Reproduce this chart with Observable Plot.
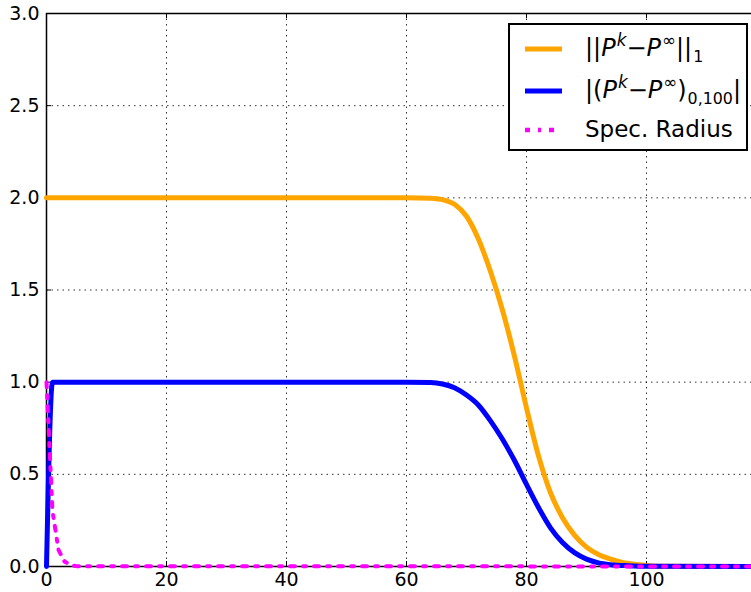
<!DOCTYPE html>
<html><head><meta charset="utf-8">
<script src="https://cdn.jsdelivr.net/npm/d3@7"></script>
<script src="https://cdn.jsdelivr.net/npm/@observablehq/plot@0.6"></script>
<style>
body{margin:0;background:#fff;}
#wrap{position:relative;width:751px;height:592px;overflow:hidden;}
#legend{position:absolute;left:508px;top:23px;width:236px;height:124px;border:2px solid #000;background:#fff;font-family:"DejaVu Sans";font-size:23px;color:#000;}
.sw{position:absolute;left:13px;width:40px;height:10px;}
.lab{position:absolute;left:75px;white-space:nowrap;line-height:30px;height:30px;}
.m{font-size:24px;}
.lab i{font-style:italic;}
.lab sup{font-size:0.7em;vertical-align:0.6em;line-height:0;margin-left:1px;}
.lab sub{font-size:0.66em;vertical-align:-0.4em;line-height:0;margin-left:1px;}
</style></head>
<body>
<div id="wrap">
<div id="legend">
  <svg class="sw" style="top:19px" width="40" height="10"><line x1="2" x2="39" y1="5" y2="5" stroke="#FFA500" stroke-width="5"/></svg>
  <div class="lab m" style="top:8px">||<i>P</i><sup><i>k</i></sup>−<i>P</i><sup>∞</sup>||<sub>1</sub></div>
  <svg class="sw" style="top:61px" width="40" height="10"><line x1="2" x2="39" y1="5" y2="5" stroke="#0000FF" stroke-width="5"/></svg>
  <div class="lab m" style="top:50px">|(<i>P</i><sup><i>k</i></sup>−<i>P</i><sup>∞</sup>)<sub>0,100</sub>|</div>
  <svg class="sw" style="top:100px" width="40" height="10"><line x1="2" x2="39" y1="5" y2="5" stroke="#FF00FF" stroke-width="4.5" stroke-dasharray="5,8,3,8"/></svg>
  <div class="lab" style="top:89px">Spec. Radius</div>
</div>
</div>
<script>
// Data
const xTicks = [0, 20, 40, 60, 80, 100];
const yTicks = [0, 0.5, 1, 1.5, 2, 2.5, 3];

const orangeK = [0, 60, 64, 66, 68, 70, 72, 74, 76, 78, 80, 82, 84, 86, 88, 90, 92, 94, 96, 98, 100, 104, 117.5];
const orangeV = [2, 2, 1.998, 1.99, 1.965, 1.9, 1.775, 1.6, 1.39, 1.14, 0.86, 0.6, 0.4, 0.265, 0.17, 0.105, 0.065, 0.04, 0.022, 0.012, 0.006, 0.001, 0];

const blueK = [0, 1, 60, 64, 66, 68, 70, 72, 74, 76, 78, 80, 82, 84, 86, 88, 90, 92, 94, 97, 100, 117.5];
const blueV = [0, 1, 1, 0.998, 0.99, 0.97, 0.93, 0.875, 0.79, 0.69, 0.575, 0.445, 0.32, 0.21, 0.13, 0.075, 0.04, 0.02, 0.01, 0.004, 0.001, 0];

const specK = [0, 1, 2, 3, 4, 5, 117.5];
const specV = [1, 0.3, 0.09, 0.027, 0.008, 0.002, 0];

const orange = orangeK.map((k, i) => ({k, v: orangeV[i]}));
const blue = blueK.map((k, i) => ({k, v: blueV[i]}));
const spec = specK.map((k, i) => ({k, v: specV[i]}));

const W = 751, H = 592, ML = 46, MR = 0, MT = 13, MB = 26;
const frameW = W - ML - MR, frameH = H - MT - MB, tk = 5;

const chart = Plot.plot({
  width: W, height: H,
  marginLeft: ML, marginRight: MR, marginTop: MT, marginBottom: MB,
  x: {domain: [0, 117.5], label: null},
  y: {domain: [0, 3], label: null},
  style: {fontFamily: "DejaVu Sans", fontSize: "19px", background: "#fff", color: "#000"},
  marks: [
    Plot.gridX(xTicks, {stroke: "#000", strokeOpacity: 0.8, strokeDasharray: "1.5,4"}),
    Plot.gridY(yTicks, {stroke: "#000", strokeOpacity: 0.8, strokeDasharray: "1.5,4"}),
    Plot.axisX(xTicks, {tickSize: 0, tickPadding: 6, tickFormat: d => d.toFixed(0), fontSize: 19, fill: "#000"}),
    Plot.axisY(yTicks, {tickSize: 0, tickPadding: 7, tickFormat: d => d.toFixed(1), fontSize: 19, fill: "#000"}),
    Plot.tickY(yTicks, {y: d => d, stroke: "#000", strokeWidth: 1, insetRight: frameW - tk}),
    Plot.tickX(xTicks, {x: d => d, stroke: "#000", strokeWidth: 1, insetTop: frameH - tk}),
    Plot.tickX(xTicks, {x: d => d, stroke: "#000", strokeWidth: 1, insetBottom: frameH - tk}),
    Plot.ruleX([0], {stroke: "#000", strokeWidth: 1.5}),
    Plot.ruleY([0], {stroke: "#000", strokeWidth: 1.5}),
    Plot.ruleY([3], {stroke: "#000", strokeWidth: 1.5}),
    Plot.line(orange, {x: "k", y: "v", stroke: "#FFA500", strokeWidth: 5, curve: "monotone-x"}),
    Plot.line(blue, {x: "k", y: "v", stroke: "#0000FF", strokeWidth: 5, curve: "monotone-x"}),
    Plot.line(spec, {x: "k", y: "v", stroke: "#FF00FF", strokeWidth: 4, strokeDasharray: "5,8,3,8", curve: "linear"})
  ]
});
const wrap = document.getElementById("wrap");
wrap.insertBefore(chart, wrap.firstChild);
</script>
</body></html>
